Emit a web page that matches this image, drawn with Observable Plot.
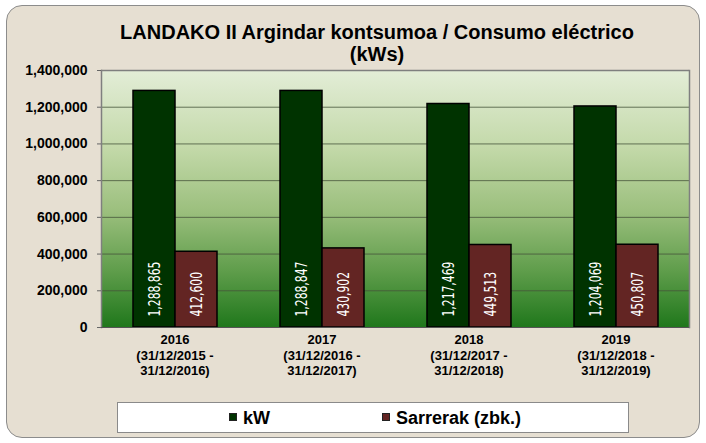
<!DOCTYPE html>
<html>
<head>
<meta charset="utf-8">
<script src="https://cdn.jsdelivr.net/npm/d3@7"></script>
<script src="https://cdn.jsdelivr.net/npm/@observablehq/plot@0.6"></script>
<style>
  html, body { margin: 0; padding: 0; background: #ffffff; }
  #wrap { position: relative; width: 706px; height: 443px; overflow: hidden; font-family: "Liberation Sans", Arial, sans-serif; }
  #bg { position: absolute; left: 6px; top: 5px; width: 692px; height: 431px; border: 1.5px solid #8c8c8c; border-radius: 16px; background: #e6dfd2; }
  #title { position: absolute; left: 77px; width: 600px; top: 21px; text-align: center; font-weight: bold; font-size: 20px; line-height: 22px; color: #000; }
  #chart { position: absolute; left: 0; top: 0; }
  #legend { position: absolute; left: 117px; top: 402px; width: 510px; height: 29px; background: #fff; border: 1px solid #8a8a8a; }
  .item { position: absolute; top: 4px; display: flex; align-items: flex-start; font-weight: bold; font-size: 18px; line-height: 22px; }
  .sw { width: 6px; height: 6px; border: 1px solid #222; margin-right: 6px; margin-top: 6px; }
</style>
</head>
<body>
<div id="wrap">
  <div id="bg"></div>
  <div id="title"></div>
  <div id="chart"></div>
  <div id="legend"></div>
</div>
<script>
const titleLines = ["LANDAKO II Argindar kontsumoa / Consumo eléctrico", "(kWs)"];
const years = ["2016", "2017", "2018", "2019"];
const yearLabels = [
  "2016\n(31/12/2015 -\n31/12/2016)",
  "2017\n(31/12/2016 -\n31/12/2017)",
  "2018\n(31/12/2017 -\n31/12/2018)",
  "2019\n(31/12/2018 -\n31/12/2019)"
];
const series = ["kW", "Sarrerak (zbk.)"];
const seriesColors = ["#003300", "#632523"];
const kW = [1288865, 1288847, 1217469, 1204069];
const sarrerak = [412600, 430902, 449513, 450807];
const yTicks = [0, 200000, 400000, 600000, 800000, 1000000, 1200000, 1400000];

const data = [];
years.forEach((y, i) => {
  data.push({year: y, series: series[0], value: kW[i]});
  data.push({year: y, series: series[1], value: sarrerak[i]});
});

document.getElementById("title").innerHTML = titleLines.join("<br>");

const fmt = d3.format(",");
const narrow = "'Liberation Sans Narrow', 'Arial Narrow', 'DejaVu Sans Condensed', 'Roboto Condensed', sans-serif";

const plot = Plot.plot({
  width: 706,
  height: 400,
  marginLeft: 100,
  marginRight: 17,
  marginTop: 70,
  marginBottom: 73,
  style: {background: "transparent", overflow: "visible", fontFamily: "'Liberation Sans', Arial, sans-serif", color: "#000"},
  fx: {domain: years, padding: 0, label: null, axis: null},
  x: {domain: series, paddingInner: 0, paddingOuter: 0.75, axis: null},
  y: {domain: [0, 1400000], label: null, axis: null},
  color: {domain: series, range: seriesColors},
  marks: [
    Plot.frame({fill: "url(#plotGrad)", stroke: "none", shapeRendering: "crispEdges", insetLeft: -0.5, insetRight: -0.5}),
    Plot.gridY(yTicks, {stroke: "#46553b", strokeOpacity: 0.8, strokeWidth: 1}),
    Plot.ruleY([1400000], {stroke: "#7f7f7f", strokeWidth: 1.5}),
    Plot.frame({anchor: "left", facetAnchor: "left", stroke: "#7f7f7f", strokeWidth: 1.5}),
    Plot.frame({anchor: "right", facetAnchor: "right", stroke: "#7f7f7f", strokeWidth: 1.5}),
    Plot.barY(data, {fx: "year", x: "series", y: "value", fill: "series", stroke: "#000", strokeWidth: 1.5}),
    Plot.ruleY([0], {stroke: "#555", strokeWidth: 1}),
    Plot.text(data, {
      fx: "year", x: "series", y: () => 0, text: d => fmt(d.value),
      rotate: -90, textAnchor: "start", dy: -11,
      fill: "#ffffff", fontSize: 16, fontFamily: narrow, className: "vlabel"
    }),
    Plot.axisY(yTicks, {
      tickFormat: d => fmt(d), tickSize: 4, tickPadding: 10,
      fontSize: 14, fontWeight: "bold", stroke: "#666", fill: "#000"
    }),
    Plot.axisFx({
      anchor: "bottom",
      tickFormat: y => yearLabels[years.indexOf(y)], tickSize: 0, tickPadding: 5,
      fontSize: 13, fontWeight: "bold", lineHeight: 1.22, fill: "#000"
    })
  ]
});

const svgNS = "http://www.w3.org/2000/svg";
const defs = document.createElementNS(svgNS, "defs");
defs.innerHTML = `<linearGradient id="plotGrad" x1="0" y1="0" x2="0" y2="1">
  <stop offset="0" stop-color="#e3edd7"/>
  <stop offset="0.3" stop-color="#c3d9a9"/>
  <stop offset="0.55" stop-color="#9bbf7d"/>
  <stop offset="0.78" stop-color="#5f9d4b"/>
  <stop offset="1" stop-color="#1f771b"/>
</linearGradient>`;
const svgEl = plot.tagName.toLowerCase() === "svg" ? plot : plot.querySelector("svg");
svgEl.insertBefore(defs, svgEl.firstChild);
document.getElementById("chart").appendChild(plot);

// condense the rotated value labels along their reading direction
svgEl.querySelectorAll(".vlabel text").forEach(t => {
  const tr = t.getAttribute("transform") || "";
  t.setAttribute("transform", tr + " scale(0.75,1)");
});

const legend = document.getElementById("legend");
const legendLeft = [111, 264];
series.forEach((s, i) => {
  const it = document.createElement("div");
  it.className = "item";
  it.style.left = legendLeft[i] + "px";
  const sw = document.createElement("span");
  sw.className = "sw";
  sw.style.background = seriesColors[i];
  const t = document.createElement("span");
  t.textContent = s;
  it.appendChild(sw); it.appendChild(t);
  legend.appendChild(it);
});
</script>
</body>
</html>
